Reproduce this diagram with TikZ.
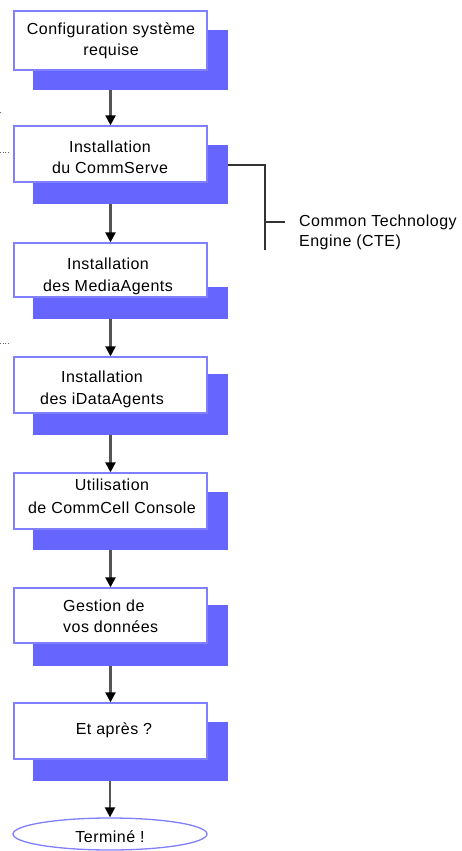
\documentclass[tikz,border=0pt]{standalone}
\usepackage{fontspec}
\setmainfont{Liberation Sans}[LetterSpace=3]
\usetikzlibrary{arrows.meta,shapes.geometric}
\definecolor{boxline}{RGB}{128,128,255}
\definecolor{shade}{RGB}{102,102,255}
\definecolor{arrowgray}{RGB}{85,85,85}
\begin{document}
\begin{tikzpicture}[x=1pt,y=-1pt,
  shadowbox/.style={fill=shade,draw=none,minimum width=195pt,inner sep=0pt},
  stepbox/.style={fill=white,draw=boxline,line width=1.3pt,minimum width=193pt,inner sep=0pt},
  steptext/.style={font=\fontsize{16}{21}\selectfont,align=center,inner sep=0pt},
  flow/.style={draw=arrowgray,line width=2.2pt,-{Triangle[width=10pt,length=10pt,fill=black,color=black]}},
  ctel/.style={draw=black!80,line width=1.1pt},
  dotmark/.style={draw=black!60,line width=1pt,dash pattern=on 1pt off 1.5pt}]
\useasboundingbox (0,0) rectangle (462,851);

% shadows
\node[shadowbox,minimum height=60pt] (s1) at (130.5,60) {};
\node[shadowbox,minimum height=59pt] (s2) at (130.5,174.5) {};
\node[shadowbox,minimum height=32pt] (s3) at (130.5,303) {};
\node[shadowbox,minimum height=61pt] (s4) at (130.5,404.5) {};
\node[shadowbox,minimum height=58pt] (s5) at (130.5,521) {};
\node[shadowbox,minimum height=61pt] (s6) at (130.5,635.5) {};
\node[shadowbox,minimum height=59pt] (s7) at (130.5,751.5) {};

% boxes
\node[stepbox,minimum height=59pt] (b1) at (110.5,40.5) {};
\node[stepbox,minimum height=56pt] (b2) at (110.5,154) {};
\node[stepbox,minimum height=54pt] (b3) at (110.5,270) {};
\node[stepbox,minimum height=56pt] (b4) at (110.5,385) {};
\node[stepbox,minimum height=56pt] (b5) at (110.5,501) {};
\node[stepbox,minimum height=55pt] (b6) at (110.5,615.5) {};
\node[stepbox,minimum height=56pt] (b7) at (110.5,731) {};
\node[ellipse,fill=white,draw=boxline,line width=1.3pt,minimum width=194pt,minimum height=32pt,inner sep=0pt] (fin) at (110,834) {};

% texts
\node[steptext] (t1) at (111,40.5) {Configuration système\\requise};
\node[steptext] (t2) at (110,157) {Installation\\du CommServe};
\node[steptext,font=\fontsize{16}{22}\selectfont] (t3) at (108,276) {Installation\\des MediaAgents};
\node[steptext,font=\fontsize{16}{22}\selectfont] (t4) at (102,389) {Installation\\des iDataAgents};
\node[steptext,font=\fontsize{16}{23}\selectfont] (t5) at (112,496.5) {Utilisation\\de CommCell Console};
\node[steptext,align=left,anchor=west] (t6) at (63,616.5) {Gestion de\\vos données};
\node[steptext] (t7) at (114,730) {Et après ?};
\node[steptext] (tf) at (110,837) {Terminé !};

% arrows
\draw[flow] (s1.south -| b2.north) -- (b2.north);
\draw[flow] (s2.south -| b3.north) -- (b3.north);
\draw[flow] (s3.south -| b4.north) -- (b4.north);
\draw[flow] (s4.south -| b5.north) -- (b5.north);
\draw[flow] (s5.south -| b6.north) -- (b6.north);
\draw[flow] (s6.south -| b7.north) -- (b7.north);
\draw[flow] (s7.south -| fin.north) -- (fin.north);

% CTE connector
\coordinate (cj) at (265,165);
\coordinate (cb) at (265,250);
\coordinate (ct) at (285,222);
\draw[ctel] (cj -| s2.east) -- (cj) -- (cb);
\draw[ctel] (cb |- ct) -- (ct);
\node[steptext,align=left,anchor=west,font=\fontsize{16}{20}\selectfont] (cte) at (299,232) {Common Technology\\Engine (CTE)};

% small marks at left edge
\draw[dotmark] (0,152.5) -- (8,152.5);
\draw[dotmark] (0,343.5) -- (8,343.5);
\fill[black!60] (0.5,112.5) circle (0.7pt);
\end{tikzpicture}
\end{document}
